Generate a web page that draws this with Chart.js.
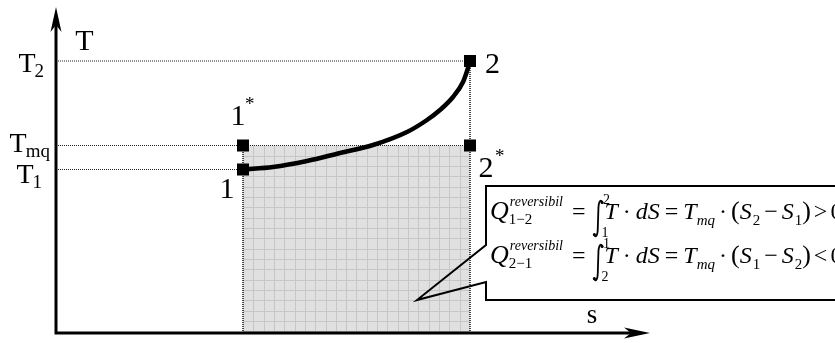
<!DOCTYPE html>
<html>
<head>
<meta charset="utf-8">
<script src="https://cdn.jsdelivr.net/npm/chart.js@4.4.1/dist/chart.umd.min.js"></script>
<style>
  html, body { margin: 0; padding: 0; background: #fff; overflow: hidden; }
  #wrap { width: 835px; height: 343px; position: relative; }
</style>
</head>
<body>
<div id="wrap"><canvas id="ts" width="835" height="343"></canvas></div>
<script>
// ---- T–s diagram data (entropy s, temperature T, arbitrary units) ----
const S1 = 1.87, S2 = 4.14;
const T1 = 1.635, TMQ = 1.875, T2 = 2.72;

// reversible path 1 -> 2
const curveS = [1.87, 2.17, 2.51, 2.84, 3.17, 3.51, 3.71, 3.84, 3.97, 4.07, 4.12, 4.14];
const curveT = [1.635, 1.66, 1.72, 1.80, 1.88, 2.01, 2.13, 2.23, 2.36, 2.51, 2.65, 2.72];

// state points: 1, 2, 1*, 2*
const markerS = [S1, S2, S1, S2];
const markerT = [T1, T2, TMQ, TMQ];
const markerName = ['1', '2', '1', '2'];
const markerStar = ['', '', '*', '*'];

// temperature levels marked on the T axis
const tickValues = [T2, TMQ, T1];
const tickMain = ['T', 'T', 'T'];
const tickSub = ['2', 'mq', '1'];

const axisTitleT = 'T';
const axisTitleS = 's';

// visible window and axis arrow ends
const S_MIN = -0.56, S_MAX = 7.79, T_MIN = -0.10, T_MAX = 3.33;
const S_ARROW = 5.94, T_ARROW = 3.26;
// point inside the area that the callout refers to
const calloutS = 3.61, calloutT = 0.33;

// ---- layout / style (pixels) ----
const FONT = '"Liberation Serif", "Times New Roman", serif';
const tickOffsets = [ {right: 45, dy: 11}, {right: 51, dy: 6}, {right: 43, dy: 13} ];
const markerLabelPos = [
  {dx: -16, dy: 28},
  {dx: 22.5, dy: 12},
  {dx: -5, dy: -21, sx: 2, sy: -36},
  {dx: 16, dy: 31, sx: 25, sy: 16}
];

function pts(xs, ys) { return xs.map((x, i) => ({x: x, y: ys[i]})); }

const dotted = { borderColor: '#222', borderWidth: 1, borderDash: [1, 1], pointRadius: 0, fill: false, tension: 0 };

function setFont(ctx, size, italic, family) {
  ctx.font = (italic ? 'italic ' : '') + size + 'px ' + (family || FONT);
}

// area under the mean temperature, with fine grid
const areaGrid = {
  id: 'areaGrid',
  afterDatasetDraw(chart, args) {
    if (chart.data.datasets[args.index].id !== 'area') return;
    const {ctx, scales: {x, y}} = chart;
    const x0 = x.getPixelForValue(S1), x1 = x.getPixelForValue(S2);
    const y0 = y.getPixelForValue(TMQ), y1 = y.getPixelForValue(0);
    const step = (x1 - x0) / 22;
    ctx.save();
    ctx.beginPath(); ctx.rect(x0, y0, x1 - x0, y1 - y0); ctx.clip();
    ctx.strokeStyle = '#c6c6c6'; ctx.lineWidth = 1;
    ctx.beginPath();
    for (let k = 1; k < 22; k++) {
      const px = Math.round(x0 + k * step) + 0.5;
      ctx.moveTo(px, y0); ctx.lineTo(px, y1);
    }
    for (let py = y0 + step; py < y1; py += step) {
      const q = Math.round(py) + 0.5;
      ctx.moveTo(x0, q); ctx.lineTo(x1, q);
    }
    ctx.stroke();
    ctx.restore();
  }
};

// axes with arrow heads
const axesArrows = {
  id: 'axesArrows',
  afterDatasetsDraw(chart) {
    const {ctx, scales: {x, y}} = chart;
    const ax = x.getPixelForValue(0), ay = y.getPixelForValue(0);
    const xt = x.getPixelForValue(S_ARROW), yt = y.getPixelForValue(T_ARROW);
    ctx.save();
    ctx.strokeStyle = '#000'; ctx.fillStyle = '#000';
    ctx.lineWidth = 3; ctx.lineJoin = 'miter';
    ctx.beginPath();
    ctx.moveTo(ax, yt + 16); ctx.lineTo(ax, ay); ctx.lineTo(xt - 16, ay);
    ctx.stroke();
    ctx.beginPath();
    ctx.moveTo(ax, yt); ctx.lineTo(ax - 5.5, yt + 25); ctx.lineTo(ax, yt + 18); ctx.lineTo(ax + 5.5, yt + 25); ctx.closePath();
    ctx.fill();
    ctx.beginPath();
    ctx.moveTo(xt, ay); ctx.lineTo(xt - 26, ay - 5.5); ctx.lineTo(xt - 19, ay); ctx.lineTo(xt - 26, ay + 5.5); ctx.closePath();
    ctx.fill();
    ctx.restore();
  }
};

// integral sign: thin stem with hooked, dotted ends
function drawIntegral(ctx, x, top, bottom) {
  const h = bottom - top;
  ctx.save();
  ctx.lineWidth = 1.8; ctx.lineCap = 'round';
  ctx.beginPath();
  ctx.moveTo(x + 9, top + 2.5);
  ctx.bezierCurveTo(x + 8, top - 0.5, x + 5.5, top, x + 5, top + h * 0.2);
  ctx.lineTo(x + 4.3, bottom - h * 0.2);
  ctx.bezierCurveTo(x + 4, bottom, x + 1.5, bottom + 0.5, x + 0.5, bottom - 2.5);
  ctx.stroke();
  ctx.beginPath(); ctx.arc(x + 8.6, top + 2.6, 1.5, 0, Math.PI * 2); ctx.fill();
  ctx.beginPath(); ctx.arc(x + 0.9, bottom - 2.6, 1.5, 0, Math.PI * 2); ctx.fill();
  ctx.restore();
}

const MAIN = 24;
// formula layout: tokens are [text, italic, size] or special objects
function drawFormula(ctx, x, base, tokens) {
  ctx.save();
  ctx.fillStyle = '#000'; ctx.strokeStyle = '#000';
  ctx.textAlign = 'left'; ctx.textBaseline = 'alphabetic';
  for (const tk of tokens) {
    if (typeof tk === 'number') { x += tk; continue; }
    if (Array.isArray(tk)) {
      setFont(ctx, tk[2] || MAIN, tk[1]);
      ctx.fillText(tk[0], x, base);
      x += ctx.measureText(tk[0]).width;
    } else if (tk.supsub) {
      setFont(ctx, 14, true);
      ctx.fillText(tk.supsub[0], x + 1, base - 13);
      const w1 = ctx.measureText(tk.supsub[0]).width;
      setFont(ctx, 15, false);
      ctx.fillText(tk.supsub[1], x, base + 5);
      const w2 = ctx.measureText(tk.supsub[1]).width;
      x += Math.max(w1 + 1, w2);
    } else if (tk.sub) {
      setFont(ctx, 15, !!tk.it);
      ctx.fillText(tk.sub, x + (tk.it ? 0 : 1), base + 6);
      x += ctx.measureText(tk.sub).width + (tk.it ? 0 : 1);
    } else if (tk.int) {
      drawIntegral(ctx, x, base - 19, base + 18);
      setFont(ctx, 14, false);
      ctx.fillText(tk.up, x + 9.5, base - 15);
      ctx.fillText(tk.lo, x + 8, base + 18);
      x += 11;
    }
  }
  ctx.restore();
}

const formula1 = [
  ['Q', true, 26], {supsub: ['reversibil', '1−2']}, 9, ['=', false], 8,
  {int: true, up: '2', lo: '1'}, ['T', true], 5, ['·', false], 5, ['dS', true], 5, ['=', false], 5,
  ['T', true], {sub: 'mq', it: true}, 4, ['·', false], 4,
  ['(', false, 26], ['S', true], {sub: '2'}, 4, ['−', false], 4, ['S', true], {sub: '1'}, [')', false, 26], 3, ['>', false], 3, ['0', false]
];
const formula2 = [
  ['Q', true, 26], {supsub: ['reversibil', '2−1']}, 9, ['=', false], 8,
  {int: true, up: '1', lo: '2'}, ['T', true], 5, ['·', false], 5, ['dS', true], 5, ['=', false], 5,
  ['T', true], {sub: 'mq', it: true}, 4, ['·', false], 4,
  ['(', false, 26], ['S', true], {sub: '1'}, 4, ['−', false], 4, ['S', true], {sub: '2'}, [')', false, 26], 3, ['<', false], 3, ['0', false]
];

// labels, callout and formulas
const annotations = {
  id: 'annotations',
  afterDraw(chart) {
    const {ctx, scales: {x, y}} = chart;
    const W = chart.width;
    const ax = x.getPixelForValue(0), ay = y.getPixelForValue(0);
    const xt = x.getPixelForValue(S_ARROW), yt = y.getPixelForValue(T_ARROW);
    ctx.save();
    ctx.fillStyle = '#000'; ctx.textBaseline = 'alphabetic';

    // axis titles
    setFont(ctx, 30, false); ctx.textAlign = 'center';
    ctx.fillText(axisTitleT, ax + 28.5, yt + 43);
    setFont(ctx, 27, false);
    ctx.fillText(axisTitleS, xt - 58, ay - 10);

    // temperature levels
    tickValues.forEach((v, i) => {
      const py = y.getPixelForValue(v);
      const o = tickOffsets[i];
      setFont(ctx, 28, false);
      const wm = ctx.measureText(tickMain[i]).width;
      setFont(ctx, 19, false);
      const ws = ctx.measureText(tickSub[i]).width;
      const x0 = o.right - wm - ws;
      ctx.textAlign = 'left';
      setFont(ctx, 28, false);
      ctx.fillText(tickMain[i], x0, py + o.dy);
      setFont(ctx, 19, false);
      ctx.fillText(tickSub[i], x0 + wm - 1, py + o.dy + 5);
    });

    // state point names
    markerS.forEach((s, i) => {
      const px = x.getPixelForValue(s), py = y.getPixelForValue(markerT[i]);
      const p = markerLabelPos[i];
      setFont(ctx, 30, false); ctx.textAlign = 'center';
      ctx.fillText(markerName[i], px + p.dx, py + p.dy);
      if (markerStar[i]) {
        setFont(ctx, 19, false); ctx.textAlign = 'left';
        ctx.fillText(markerStar[i], px + p.sx, py + p.sy);
      }
    });

    // callout box
    const tipX = x.getPixelForValue(calloutS), tipY = y.getPixelForValue(calloutT);
    const bl = 486, bt = 186, bb = 300;
    ctx.strokeStyle = '#000'; ctx.lineWidth = 2; ctx.lineJoin = 'miter';
    ctx.beginPath();
    ctx.moveTo(W + 5, bt); ctx.lineTo(bl, bt); ctx.lineTo(bl, 245);
    ctx.lineTo(tipX, tipY); ctx.lineTo(bl, 282); ctx.lineTo(bl, bb); ctx.lineTo(W + 5, bb);
    ctx.stroke();

    drawFormula(ctx, 490, 219, formula1);
    drawFormula(ctx, 490, 263, formula2);
    ctx.restore();
  }
};

new Chart(document.getElementById('ts'), {
  type: 'line',
  data: {
    datasets: [
      { label: 'states', data: pts(markerS, markerT), showLine: false, pointStyle: 'rect',
        pointRadius: 8.5, pointHoverRadius: 8.5, pointBackgroundColor: '#000', pointBorderColor: '#000', pointBorderWidth: 0, order: 0 },
      { label: 'path 1-2', data: pts(curveS, curveT), borderColor: '#000', borderWidth: 4.5,
        cubicInterpolationMode: 'monotone', pointRadius: 0, fill: false, order: 1 },
      Object.assign({ label: 'T2 level', data: pts([0, S2], [T2, T2]), order: 2 }, dotted),
      Object.assign({ label: 'Tmq level', data: pts([0, S2], [TMQ, TMQ]), order: 2 }, dotted),
      Object.assign({ label: 'T1 level', data: pts([0, S1], [T1, T1]), order: 2 }, dotted),
      Object.assign({ label: 's1', data: pts([S1, S1], [0, TMQ]), order: 2 }, dotted, { borderColor: '#000', borderWidth: 1.4 }),
      Object.assign({ label: 's2', data: pts([S2, S2], [0, T2]), order: 2 }, dotted, { borderColor: '#000', borderWidth: 1.4 }),
      { id: 'area', label: 'area', data: pts([S1, S2], [TMQ, TMQ]), borderWidth: 0, pointRadius: 0,
        backgroundColor: '#e0e0e0', fill: 'origin', order: 3 }
    ]
  },
  options: {
    responsive: false,
    animation: false,
    devicePixelRatio: 1,
    layout: { padding: 0, autoPadding: false },
    events: [],
    plugins: { legend: { display: false }, tooltip: { enabled: false } },
    scales: {
      x: { type: 'linear', display: false, min: S_MIN, max: S_MAX },
      y: { type: 'linear', display: false, min: T_MIN, max: T_MAX }
    }
  },
  plugins: [areaGrid, axesArrows, annotations]
});
</script>
</body>
</html>
